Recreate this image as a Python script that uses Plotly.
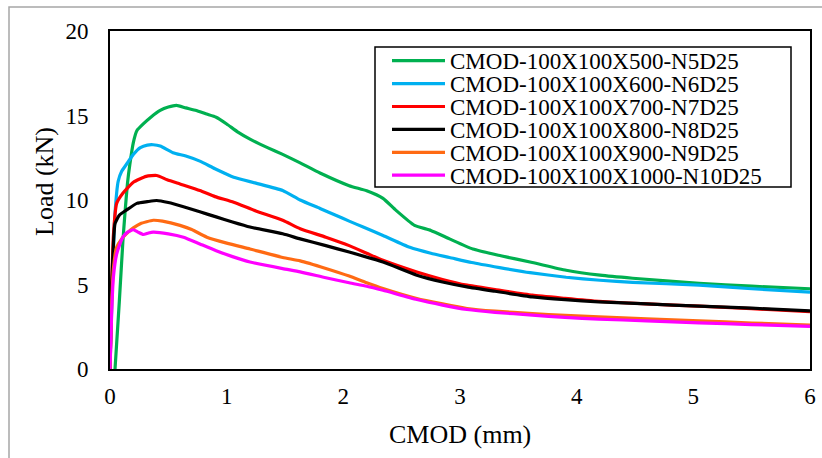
import plotly.graph_objects as go

names = ["CMOD-100X100X500-N5D25", "CMOD-100X100X600-N6D25", "CMOD-100X100X700-N7D25",
         "CMOD-100X100X800-N8D25", "CMOD-100X100X900-N9D25", "CMOD-100X100X1000-N10D25"]
colors = ["#00B050", "#00B0F0", "#FF0000", "#000000", "#FF6A13", "#FF00FF"]

x_n5 = [0.043, 0.08, 0.11, 0.128, 0.15, 0.17, 0.2, 0.23, 0.285, 0.35, 0.43, 0.5, 0.57, 0.65, 0.74, 0.82, 0.91, 1.0, 1.1, 1.2, 1.35, 1.48, 1.63, 1.8, 2.05, 2.2, 2.34, 2.45, 2.61, 2.75, 2.91, 3.11, 3.35, 3.62, 3.91, 4.2, 4.48, 5.05, 5.5, 6.0]
y_n5 = [0, 4.0, 7.5, 9.2, 11.0, 12.1, 13.4, 14.1, 14.5, 14.9, 15.3, 15.5, 15.6, 15.45, 15.3, 15.1, 14.9, 14.5, 14.0, 13.6, 13.1, 12.7, 12.2, 11.6, 10.85, 10.55, 10.1, 9.4, 8.5, 8.2, 7.7, 7.1, 6.7, 6.3, 5.84, 5.55, 5.37, 5.07, 4.9, 4.75]

x_n6 = [0, 0.02, 0.043, 0.07, 0.1, 0.14, 0.2, 0.26, 0.32, 0.37, 0.43, 0.54, 0.65, 0.77, 0.9, 1.06, 1.25, 1.48, 1.63, 1.8, 1.94, 2.05, 2.17, 2.34, 2.57, 2.75, 2.91, 3.1, 3.34, 3.6, 3.91, 4.2, 4.48, 5.05, 5.5, 6.0]
y_n6 = [0, 5.0, 9.2, 11.1, 11.7, 12.1, 12.7, 13.1, 13.25, 13.27, 13.2, 12.8, 12.6, 12.3, 11.85, 11.35, 11.0, 10.56, 10.0, 9.5, 9.08, 8.75, 8.4, 7.9, 7.2, 6.85, 6.6, 6.3, 6.0, 5.7, 5.43, 5.25, 5.13, 4.96, 4.75, 4.55]

x_n7 = [0, 0.015, 0.03, 0.057, 0.11, 0.2, 0.31, 0.4, 0.49, 0.6, 0.77, 0.9, 1.06, 1.25, 1.48, 1.63, 1.85, 2.05, 2.2, 2.34, 2.63, 2.85, 3.06, 3.3, 3.62, 3.9, 4.19, 4.6, 5.05, 5.5, 6.0]
y_n7 = [0, 5.0, 8.0, 9.8, 10.4, 11.05, 11.4, 11.45, 11.2, 10.95, 10.56, 10.2, 9.87, 9.35, 8.8, 8.3, 7.8, 7.3, 6.85, 6.43, 5.74, 5.3, 4.96, 4.7, 4.37, 4.18, 4.0, 3.85, 3.72, 3.57, 3.4]

x_n8 = [0, 0.015, 0.03, 0.043, 0.08, 0.14, 0.23, 0.32, 0.4, 0.5, 0.63, 0.77, 0.91, 1.05, 1.2, 1.48, 1.63, 1.85, 2.05, 2.34, 2.63, 2.85, 3.06, 3.3, 3.62, 3.9, 4.19, 4.6, 5.05, 5.5, 6.0]
y_n8 = [0, 5.0, 7.5, 8.6, 9.1, 9.4, 9.8, 9.9, 9.97, 9.85, 9.6, 9.3, 9.0, 8.7, 8.4, 8.0, 7.7, 7.3, 6.92, 6.33, 5.55, 5.15, 4.86, 4.6, 4.27, 4.1, 3.97, 3.85, 3.72, 3.6, 3.44]

x_n9 = [0, 0.015, 0.03, 0.057, 0.1, 0.14, 0.2, 0.26, 0.37, 0.45, 0.6, 0.7, 0.83, 1.0, 1.2, 1.48, 1.63, 1.85, 2.05, 2.2, 2.34, 2.63, 2.85, 3.06, 3.3, 3.62, 3.9, 4.19, 4.6, 5.05, 5.5, 6.0]
y_n9 = [0, 4.0, 6.0, 7.2, 7.7, 8.0, 8.35, 8.6, 8.8, 8.75, 8.5, 8.25, 7.8, 7.45, 7.1, 6.6, 6.4, 5.95, 5.5, 5.1, 4.76, 4.17, 3.85, 3.58, 3.42, 3.28, 3.17, 3.09, 2.97, 2.85, 2.72, 2.6]

x_n10 = [0, 0.015, 0.03, 0.057, 0.08, 0.11, 0.15, 0.2, 0.24, 0.285, 0.33, 0.37, 0.5, 0.63, 0.77, 0.91, 1.05, 1.2, 1.48, 1.63, 1.85, 2.05, 2.2, 2.34, 2.63, 2.85, 3.06, 3.3, 3.62, 3.9, 4.19, 4.6, 5.05, 5.5, 6.0]
y_n10 = [0, 3.5, 5.5, 6.8, 7.3, 7.8, 8.1, 8.24, 8.1, 7.96, 8.05, 8.1, 8.0, 7.8, 7.4, 7.0, 6.65, 6.33, 5.94, 5.75, 5.4, 5.1, 4.9, 4.66, 4.11, 3.78, 3.52, 3.35, 3.19, 3.05, 2.95, 2.85, 2.73, 2.63, 2.52]

xs = [x_n5, x_n6, x_n7, x_n8, x_n9, x_n10]
ys = [y_n5, y_n6, y_n7, y_n8, y_n9, y_n10]

x_ticks = [0, 1, 2, 3, 4, 5, 6]
y_ticks = [0, 5, 10, 15, 20]

FONT = "Liberation Serif"
W, H = 822, 458
L, R, T, B = 110, 12, 31, 89
PW, PH = W - L - R, H - T - B

def px(xp):
    return (xp - L) / PW

def py(yp):
    return (H - B - yp) / PH

fig = go.Figure()
for name, c, x, y in zip(names, colors, xs, ys):
    fig.add_trace(go.Scatter(x=x, y=y, mode="lines", name=name,
                             line=dict(color=c, width=3.2, shape="spline", smoothing=0.5),
                             showlegend=False))

shapes = []
annotations = []
# outer chart border
shapes.append(dict(type="rect", xref="paper", yref="paper", x0=px(9), x1=px(840), y0=py(470), y1=py(7),
                   line=dict(color="#A6A6A6", width=1.5), fillcolor="rgba(0,0,0,0)", layer="below"))
# legend box
lx0, lx1, ly0, ly1 = 375, 791, 47, 187
shapes.append(dict(type="rect", xref="paper", yref="paper", x0=px(lx0), x1=px(lx1), y0=py(ly1), y1=py(ly0),
                   line=dict(color="black", width=1.5), fillcolor="white", layer="above"))
for i, (name, c) in enumerate(zip(names, colors)):
    yc = 60.7 + 22.9 * i
    shapes.append(dict(type="line", xref="paper", yref="paper", x0=px(392), x1=px(445), y0=py(yc), y1=py(yc),
                       line=dict(color=c, width=3.2), layer="above"))
    annotations.append(dict(text=name, xref="paper", yref="paper", x=px(448), y=py(yc + 1),
                            xanchor="left", yanchor="middle", showarrow=False,
                            font=dict(family=FONT, size=23, color="black")))

annotations.append(dict(text="CMOD (mm)", xref="paper", yref="paper", x=px(460), y=py(434),
                        xanchor="center", yanchor="middle", showarrow=False,
                        font=dict(family=FONT, size=26, color="black")))
annotations.append(dict(text="Load (kN)", xref="paper", yref="paper", x=px(45), y=py(182),
                        xanchor="center", yanchor="middle", showarrow=False, textangle=-90,
                        font=dict(family=FONT, size=26, color="black")))

fig.update_layout(
    width=W, height=H,
    margin=dict(l=L, r=R, t=T, b=B, autoexpand=False),
    paper_bgcolor="white", plot_bgcolor="white",
    shapes=shapes, annotations=annotations,
    font=dict(family=FONT, size=23, color="black"),
)
fig.update_xaxes(range=[0, 6], tickvals=x_ticks, showgrid=False, zeroline=False,
                 showline=True, linecolor="black", linewidth=2, mirror=True,
                 ticks="", ticklabelstandoff=5, tickfont=dict(family=FONT, size=23, color="black"))
fig.update_yaxes(range=[0, 20], tickvals=y_ticks, showgrid=False, zeroline=False,
                 showline=True, linecolor="black", linewidth=2, mirror=True,
                 ticks="", ticklabelstandoff=15, tickfont=dict(family=FONT, size=23, color="black"))

fig.write_html("out.html")
